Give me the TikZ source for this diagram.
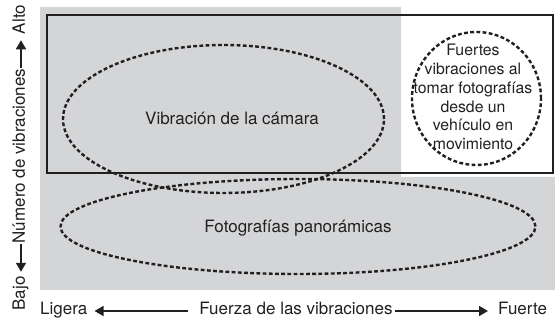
\documentclass[tikz,border=0pt]{standalone}
\usepackage{fontspec}
\setmainfont{TeX Gyre Heros}
\usepackage{tikz}
\usetikzlibrary{arrows.meta,positioning,calc,shapes.geometric}

\definecolor{bggray}{RGB}{212,213,215}
\definecolor{ink}{RGB}{35,31,32}

\begin{document}
\begin{tikzpicture}[
    x=1pt, y=1pt,
    zone/.style={fill=bggray, draw=none},
    frame/.style={draw=ink, line width=1.6pt},
    oval/.style={
        ellipse, draw=ink, line width=2.4pt,
        dash pattern=on 3.8pt off 2.4pt, inner sep=0pt
    },
    txt/.style={font=\fontsize{17}{20}\selectfont, text=ink, inner sep=0pt},
    small/.style={font=\fontsize{15.8}{18.8}\selectfont, text=ink, align=center, inner sep=0pt},
    axlabel/.style={txt, text height=12pt, text depth=4pt},
    axarr/.style={-{Triangle[length=9pt, width=10pt]}, line width=1.7pt, ink}
]
    \useasboundingbox (0,0) rectangle (555,320);

    % Background zones
    \fill[zone] (40,313) -- (401,313) -- (401,143) -- (555,143)
        -- (555,30) -- (40,30) -- cycle;
    \draw[frame] (47,305) rectangle (553,147);

    % Dashed regions
    \node[oval, minimum width=321pt, minimum height=148pt] (camara) at (223.5,201) {};
    \node[oval, minimum width=475pt, minimum height=95pt] (pano) at (298,93.5) {};
    \node[oval, minimum width=129pt, minimum height=133pt] (vehiculo) at (476.5,221.5) {};

    % Region texts
    \node[txt] (camaratxt) at ($(camara.center)+(8.5,1)$) {Vibración de la cámara};
    \node[txt] (panotxt) at ($(pano.center)+(0,-1.5)$) {Fotografías panorámicas};
    \node[small] (vehiculotxt) at ($(vehiculo.center)+(-3.5,1.5)$)
        {Fuertes\\vibraciones al\\tomar fotografías\\desde un\\vehículo en\\movimiento};

    % Horizontal axis
    \node[axlabel, anchor=base west] (ligera) at (40,5) {Ligera};
    \node[axlabel, anchor=base] (fuerza) at (296,5) {Fuerza de las vibraciones};
    \node[axlabel, anchor=base west] (fuerte) at (498,5) {Fuerte};
    \draw[axarr, shorten <=11pt, shorten >=7pt] (fuerza.west) -- (ligera.east);
    \draw[axarr, shorten <=2pt, shorten >=10pt] (fuerza.east) -- (fuerte.west);

    % Vertical axis
    \node[axlabel, rotate=90, anchor=base] (bajo) at (25,26.5) {Bajo};
    \node[axlabel, rotate=90, anchor=base] (numero) at (25,164) {Número de vibraciones};
    \node[axlabel, rotate=90, anchor=base] (alto) at (25,300.5) {Alto};
    \draw[axarr, shorten <=0.5pt, shorten >=4.5pt] (numero.west) -- (bajo.east);
    \draw[axarr, shorten <=0pt, shorten >=6pt] (numero.east) -- (alto.west);

\end{tikzpicture}
\end{document}
